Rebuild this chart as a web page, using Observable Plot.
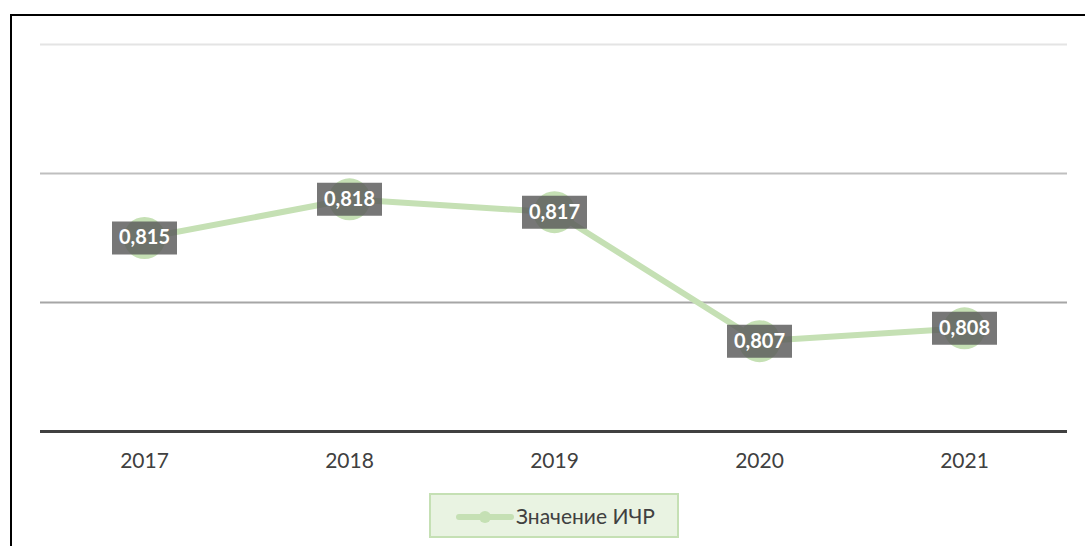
<!DOCTYPE html>
<html>
<head>
<meta charset="utf-8">
<script src="https://cdn.jsdelivr.net/npm/d3@7"></script>
<script src="https://cdn.jsdelivr.net/npm/@observablehq/plot@0.6"></script>
<style>
  html, body { margin: 0; padding: 0; background: #fff; width: 1085px; height: 546px; overflow: hidden; }
  #frame { position: absolute; left: 10px; top: 14px; width: 1200px; height: 700px; border: 2px solid #000; box-sizing: border-box; }
  #chart { position: absolute; left: 0; top: 0; }
  #legend { position: absolute; left: 429px; top: 493px; width: 250px; height: 45px; box-sizing: border-box;
            background: #e9f3e2; border: 2px solid #c5e0b4; font-family: Lato, sans-serif; font-size: 21px; color: #404040; }
  #legend svg { position: absolute; left: 25px; top: 12px; }
  #legend span { position: absolute; left: 85px; top: 8px; white-space: nowrap; }
</style>
</head>
<body>
<div id="frame"></div>
<div id="chart"></div>
<div id="legend">
  <svg width="60" height="20"><line x1="3" y1="10" x2="55" y2="10" stroke="#c5e0b4" stroke-width="6" stroke-linecap="round"/><circle cx="29" cy="10" r="6" fill="#c5e0b4"/></svg>
  <span id="legendLabel"></span>
</div>
<script>
const years = ["2017", "2018", "2019", "2020", "2021"];
const values = [0.815, 0.818, 0.817, 0.807, 0.808];
const labels = ["0,815", "0,818", "0,817", "0,807", "0,808"];
const gridValues = [0.81, 0.82, 0.83];
const seriesName = "Значение ИЧР";

const gridColors = ["#a6a6a6", "#bfbfbf", "#e4e4e4"];
const green = "#c5e0b4";

const data = years.map((y, i) => ({year: y, value: values[i], label: labels[i]}));
const grid = gridValues.map((v, i) => ({v, color: gridColors[i]}));

const boxSymbol = {
  draw(context) {
    context.rect(-32.5, -16.5, 65, 33);
  }
};

const chart = Plot.plot({
  width: 1085,
  height: 480,
  marginLeft: 40,
  marginRight: 18,
  marginTop: 44,
  marginBottom: 49,
  style: {fontFamily: "Lato, sans-serif", background: "transparent"},
  x: {type: "point", domain: years, padding: 0.5, label: null},
  y: {domain: [0.80, 0.83], axis: null},
  marks: [
    Plot.ruleY(grid, {y: "v", stroke: d => d.color, strokeWidth: 2}),
    Plot.ruleY([0.80], {stroke: "#404040", strokeWidth: 3}),
    Plot.axisX({tickSize: 0, tickPadding: 22, fontSize: 21, fill: "#404040", label: null}),
    Plot.line(data, {x: "year", y: "value", stroke: green, strokeWidth: 6, curve: "linear"}),
    Plot.dot(data, {x: "year", y: "value", r: 21, fill: green, stroke: "none"}),
    Plot.dot(data, {x: "year", y: "value", symbol: boxSymbol, r: 10, fill: "#595959", fillOpacity: 0.82, stroke: "none"}),
    Plot.text(data, {x: "year", y: "value", text: "label", fill: "white", fontWeight: "bold", fontSize: 20, dy: 0})
  ]
});
document.getElementById("chart").appendChild(chart);
document.getElementById("legendLabel").textContent = seriesName;
</script>
</body>
</html>
